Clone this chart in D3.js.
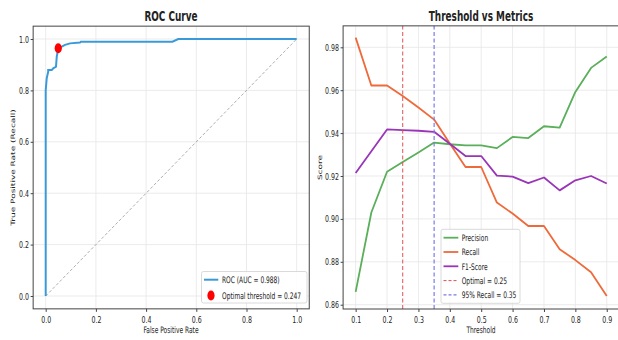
<!DOCTYPE html>
<html><head><meta charset="utf-8">
<script src="https://cdn.jsdelivr.net/npm/d3@7"></script>
<style>body{margin:0;background:#fff}svg{display:block}text{font-family:"DejaVu Sans",sans-serif;fill:#222}</style>
</head><body>
<svg id="c" width="618" height="340"></svg>
<script>
// ROC data
const fpr = [0, 0, 0.004, 0.010, 0.010, 0.024, 0.030, 0.041, 0.044, 0.050, 0.064, 0.077, 0.097, 0.137, 0.140, 0.505, 0.528, 1.0];
const tpr = [0, 0.80, 0.847, 0.873, 0.879, 0.879, 0.886, 0.892, 0.931, 0.964, 0.970, 0.977, 0.983, 0.986, 0.9895, 0.9895, 1.0, 1.0];
const optimalPoint = [0.05, 0.964];
const rocTicks = [0, 0.2, 0.4, 0.6, 0.8, 1.0];
// Threshold metrics
const thresholds = [0.1,0.15,0.2,0.25,0.3,0.35,0.4,0.45,0.5,0.55,0.6,0.65,0.7,0.75,0.8,0.85,0.9];
const precision = [0.866,0.903,0.922,0.9265,0.931,0.9356,0.9348,0.9343,0.9343,0.933,0.9382,0.9377,0.9432,0.9426,0.9592,0.9704,0.9757];
const recall = [0.9845,0.9622,0.9622,0.9573,0.9519,0.9463,0.9351,0.9242,0.9242,0.9076,0.9025,0.8967,0.8967,0.8859,0.8808,0.8751,0.8641];
const f1 = [0.9214,0.9315,0.9417,0.9414,0.9411,0.9406,0.935,0.9293,0.9293,0.9202,0.9197,0.9167,0.9193,0.9133,0.918,0.92,0.9165];
const thrXTicks = [0.1,0.2,0.3,0.4,0.5,0.6,0.7,0.8,0.9];
const thrYTicks = [0.86,0.88,0.90,0.92,0.94,0.96,0.98];
const optimalThr = 0.25, recall95Thr = 0.35;

const SX = 0.66;
const svg = d3.select("#c");
const C = {roc:"#3a9ad9", prec:"#5aaf5a", rec:"#ee6a3a", f1:"#9a35b8", opt:"#e05050", r95:"#7a7ae8"};

function txt(g, x, y, s, o={}) {
  const t = g.append("text").attr("transform", `translate(${x},${y}) scale(${SX},1)` + (o.rot ? " rotate(-90)" : ""))
    .attr("text-anchor", o.anchor || "start").style("font-size", (o.size||9)+"px").text(s);
  if (o.bold) t.style("font-weight", "bold");
  return t;
}

function panel(xs, ys, xt, yt, xfmt, yfmt) {
  const g = svg.append("g");
  const [x0,x1] = xs.range(), [y0,y1] = ys.range();
  // grid
  g.append("g").selectAll("line").data(xt).join("line")
    .attr("x1", d=>xs(d)).attr("x2", d=>xs(d)).attr("y1", y0).attr("y2", y1)
    .attr("stroke", "#e6e6e6").attr("stroke-width", 0.8);
  g.append("g").selectAll("line").data(yt).join("line")
    .attr("y1", d=>ys(d)).attr("y2", d=>ys(d)).attr("x1", x0).attr("x2", x1)
    .attr("stroke", "#e6e6e6").attr("stroke-width", 0.8);
  const ax = g.append("g").attr("transform", `translate(0,${y0})`)
    .call(d3.axisBottom(xs).tickValues(xt).tickFormat(xfmt).tickSize(3).tickPadding(4));
  const ay = g.append("g").attr("transform", `translate(${x0},0)`)
    .call(d3.axisLeft(ys).tickValues(yt).tickFormat(yfmt).tickSize(2.5).tickPadding(3));
  [ax, ay].forEach(a => {
    a.select(".domain").remove();
    a.selectAll("line").attr("stroke", "#444");
    a.selectAll("text").style("font-size", "9.5px").style("font-family", "DejaVu Sans").attr("fill", "#333");
  });
  ax.selectAll("text").attr("transform", `scale(${SX},1)`);
  ay.selectAll("text").attr("x", -4.2/SX).attr("transform", `scale(${SX},1)`);
  return g;
}
function frame(g, xs, ys) {
  const [x0,x1] = xs.range(), [y0,y1] = ys.range();
  g.append("rect").attr("x", x0).attr("y", y1).attr("width", x1-x0).attr("height", y0-y1)
    .attr("fill", "none").attr("stroke", "#444").attr("stroke-width", 1);
}

// ---- Left: ROC ----
const xL = d3.scaleLinear().domain([-0.05, 1.05]).range([33.15, 309.25]);
const yL = d3.scaleLinear().domain([-0.05, 1.05]).range([308.85, 26.15]);
const gL = panel(xL, yL, rocTicks, rocTicks, d3.format(".1f"), d3.format(".1f"));
gL.append("line").attr("x1", xL(0)).attr("y1", yL(0)).attr("x2", xL(1)).attr("y2", yL(1))
  .attr("stroke", "#999").attr("stroke-width", 0.8).attr("stroke-dasharray", "3,2");
const rocPts = fpr.map((f,i)=>[f, tpr[i]]);
gL.append("path").datum(rocPts).attr("fill","none").attr("stroke", C.roc).attr("stroke-width", 2)
  .attr("d", d3.line().x(d=>xL(d[0])).y(d=>yL(d[1])));
gL.append("ellipse").attr("cx", xL(optimalPoint[0])).attr("cy", yL(optimalPoint[1])).attr("rx", 3.6).attr("ry", 5).attr("fill", "red");
frame(gL, xL, yL);
txt(gL, 171, 21, "ROC Curve", {anchor:"middle", size:13.5, bold:true});
txt(gL, 171, 332.5, "False Positive Rate", {anchor:"middle", size:9});
txt(gL, 15, 167.5, "True Positive Rate (Recall)", {anchor:"middle", size:9, rot:true});
// legend
const lgL = gL.append("g");
lgL.append("rect").attr("x", 201.5).attr("y", 271.5).attr("width", 105.5).attr("height", 31.5).attr("rx", 2)
  .attr("fill", "white").attr("fill-opacity", 0.85).attr("stroke", "#d0d0d0").attr("stroke-width", 0.8);
lgL.append("line").attr("x1", 204).attr("x2", 218.3).attr("y1", 279.7).attr("y2", 279.7).attr("stroke", C.roc).attr("stroke-width", 2);
txt(lgL, 222, 282.8, "ROC (AUC = 0.988)", {size:9});
lgL.append("ellipse").attr("cx", 211).attr("cy", 295.5).attr("rx", 3.6).attr("ry", 5).attr("fill", "red");
txt(lgL, 222, 298.5, "Optimal threshold = 0.247", {size:9});

// ---- Right: Threshold vs Metrics ----
const xR = d3.scaleLinear().domain([0.06, 0.94]).range([343.1, 619.3]);
const yR = d3.scaleLinear().domain([0.858, 0.990]).range([309.0, 25.85]);
const gR = panel(xR, yR, thrXTicks, thrYTicks, d3.format(".1f"), d3.format(".2f"));
const line = d3.line().x((d,i)=>xR(thresholds[i])).y(d=>yR(d));
[[precision, C.prec], [recall, C.rec], [f1, C.f1]].forEach(([arr, col]) => {
  gR.append("path").datum(arr).attr("fill","none").attr("stroke", col).attr("stroke-width", 1.8)
    .attr("stroke-linejoin","round").attr("d", line);
});
gR.append("line").attr("x1", xR(optimalThr)).attr("x2", xR(optimalThr)).attr("y1", yR.range()[0]).attr("y2", yR.range()[1])
  .attr("stroke", C.opt).attr("stroke-width", 1).attr("stroke-dasharray", "4,2.5");
gR.append("line").attr("x1", xR(recall95Thr)).attr("x2", xR(recall95Thr)).attr("y1", yR.range()[0]).attr("y2", yR.range()[1])
  .attr("stroke", C.r95).attr("stroke-width", 1.2).attr("stroke-dasharray", "4,2.5");
frame(gR, xR, yR);
txt(gR, 481, 21, "Threshold vs Metrics", {anchor:"middle", size:13.5, bold:true});
txt(gR, 481, 332.5, "Threshold", {anchor:"middle", size:9});
txt(gR, 321.5, 167.5, "Score", {anchor:"middle", size:9, rot:true});
const lgR = gR.append("g");
lgR.append("rect").attr("x", 441).attr("y", 229.3).attr("width", 79).attr("height", 74).attr("rx", 2)
  .attr("fill", "white").attr("fill-opacity", 0.85).attr("stroke", "#d0d0d0").attr("stroke-width", 0.8);
const entries = [["Precision", C.prec, null, 1.8], ["Recall", C.rec, null, 1.8], ["F1-Score", C.f1, null, 1.8],
  ["Optimal = 0.25", C.opt, "3,2", 1], ["95% Recall = 0.35", C.r95, "3,2", 1.2]];
entries.forEach((e, i) => {
  const y = 237.7 + i*14.3;
  const l = lgR.append("line").attr("x1", 443.5).attr("x2", 458.3).attr("y1", y).attr("y2", y)
    .attr("stroke", e[1]).attr("stroke-width", e[3]);
  if (e[2]) l.attr("stroke-dasharray", e[2]);
  txt(lgR, 461.7, y + 3.2, e[0], {size:9});
});
</script>
</body></html>
